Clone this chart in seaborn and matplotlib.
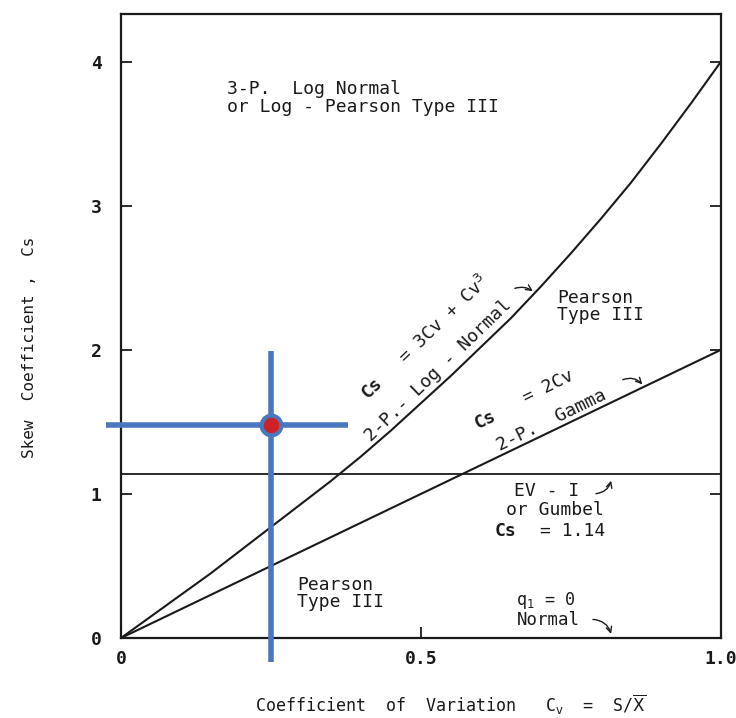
import numpy as np
import pandas as pd
import matplotlib
matplotlib.use("Agg")
import matplotlib.pyplot as plt
import seaborn as sns

# ---- data ----
cv_points = [0.0, 0.05, 0.1, 0.15, 0.2, 0.25, 0.3, 0.35, 0.4, 0.45, 0.5,
             0.55, 0.6, 0.65, 0.7, 0.75, 0.8, 0.85, 0.9, 0.95, 1.0]
cs_lognormal = [0.0, 0.15, 0.30, 0.45, 0.61, 0.77, 0.93, 1.09, 1.26, 1.44, 1.63,
                1.82, 2.02, 2.22, 2.44, 2.67, 2.91, 3.16, 3.43, 3.71, 4.0]
cv_gamma = [0.0, 1.0]
cs_gamma = [0.0, 2.0]
cs_gumbel = 1.14
point_cv = 0.25
point_cs = 1.48
cross_h = [-0.025, 0.378]   # horizontal blue bar extent (Cv)
cross_v = [-0.17, 1.99]     # vertical blue bar extent (Cs)
xticks = [0, 0.5, 1.0]
xticklabels = ["0", "0.5", "1.0"]
yticks = [0, 1, 2, 3, 4]
yticklabels = ["0", "1", "2", "3", "4"]

sns.set_style("ticks")
plt.rcParams['font.family'] = ['DejaVu Sans Mono', 'DejaVu Sans']

fig = plt.figure(figsize=(7.36, 7.18), dpi=100)
ax = fig.add_axes([121/736, 80/718, 600/736, 624/718])

df_ln = pd.DataFrame({"Cv": cv_points, "Cs": cs_lognormal})
df_g = pd.DataFrame({"Cv": cv_gamma, "Cs": cs_gamma})
df_gu = pd.DataFrame({"Cv": [0.0, 1.0], "Cs": [cs_gumbel, cs_gumbel]})

black = "#1a1a1a"
sns.lineplot(data=df_ln, x="Cv", y="Cs", ax=ax, color=black, lw=1.5)
sns.lineplot(data=df_g, x="Cv", y="Cs", ax=ax, color=black, lw=1.5)
sns.lineplot(data=df_gu, x="Cv", y="Cs", ax=ax, color=black, lw=1.3)

# blue crosshair with red point
blue = "#4a78bf"
ax.plot(cross_h, [point_cs, point_cs], color=blue, lw=4, clip_on=False, solid_capstyle="butt", zorder=5)
ax.plot([point_cv, point_cv], cross_v, color=blue, lw=4, clip_on=False, solid_capstyle="butt", zorder=5)
ax.scatter([point_cv], [point_cs], s=200, color="#d0202a", edgecolor=blue, linewidth=3, zorder=6)

ax.set_xlim(0, 1.0)
ax.set_ylim(0, 4.33)
ax.set_xticks(xticks)
ax.set_xticklabels(xticklabels)
ax.set_yticks(yticks)
ax.set_yticklabels(yticklabels)
ax.tick_params(axis="both", direction="in", length=8, width=1.3, labelsize=13, colors=black)
ax.tick_params(axis="y", right=True, pad=14)
ax.tick_params(axis="x", pad=9)
for lab in ax.get_xticklabels() + ax.get_yticklabels():
    lab.set_fontweight("bold")
for s in ax.spines.values():
    s.set_visible(True)
    s.set_linewidth(1.6)
    s.set_color(black)

ax.set_xlabel(r"Coefficient  of  Variation   C$_\mathrm{v}$  =  S/$\overline{\mathrm{X}}$",
              fontsize=12, color=black, va="center")
ax.set_ylabel("Skew  Coefficient ,  Cs", fontsize=11.5, color=black, va="center")
ax.xaxis.set_label_coords((451 - 121) / 600, -0.107)
ax.yaxis.set_label_coords((30 - 121) / 600, (638 - 347) / 624)

fs = 13
ax.text(0.177, 3.87, "3-P.  Log Normal\nor Log - Pearson Type III", fontsize=fs, va="top", ha="left",
        color=black, linespacing=0.95)
ax.text(0.727, 2.30, "Pearson\nType III", fontsize=fs, ha="left", va="center", color=black, linespacing=0.95)
ax.text(0.293, 0.31, "Pearson\nType III", fontsize=fs, ha="left", va="center", color=black, linespacing=0.95)

ax.text(0.418, 1.736, "Cs", fontsize=fs, fontweight="bold", ha="center", va="center", rotation=44, color=black)
ax.text(0.537, 2.208, r"= 3Cv + Cv$^3$", fontsize=fs, ha="center", va="center", rotation=44, color=black)
ax.text(0.528, 1.854, "2-P.- Log - Normal", fontsize=fs, ha="center", va="center", rotation=44, color=black)
ax.annotate("", xy=(0.69, 2.395), xytext=(0.652, 2.42),
            arrowprops=dict(arrowstyle="->", color=black, lw=1.0, connectionstyle="arc3,rad=-0.3"))

ax.text(0.607, 1.514, "Cs", fontsize=fs, fontweight="bold", ha="center", va="center", rotation=26, color=black)
ax.text(0.712, 1.743, "= 2Cv", fontsize=fs, ha="center", va="center", rotation=26, color=black)
ax.text(0.717, 1.514, "2-P.  Gamma", fontsize=fs, ha="center", va="center", rotation=26, color=black)
ax.annotate("", xy=(0.872, 1.745), xytext=(0.832, 1.785),
            arrowprops=dict(arrowstyle="->", color=black, lw=1.0, connectionstyle="arc3,rad=-0.4"))

ax.text(0.71, 1.02, "EV - I", fontsize=fs, ha="center", va="center", color=black)
ax.text(0.723, 0.889, "or Gumbel", fontsize=fs, ha="center", va="center", color=black)
ax.text(0.64, 0.743, "Cs", fontsize=fs, fontweight="bold", ha="center", va="center", color=black)
ax.text(0.753, 0.743, "= 1.14", fontsize=fs, ha="center", va="center", color=black)
ax.annotate("", xy=(0.818, 1.11), xytext=(0.787, 1.0),
            arrowprops=dict(arrowstyle="->", color=black, lw=1.0, connectionstyle="arc3,rad=0.4"))

ax.text(0.707, 0.262, r"q$_1$ = 0", fontsize=12, ha="center", va="center", color=black)
ax.text(0.712, 0.122, "Normal", fontsize=12.5, ha="center", va="center", color=black)
ax.annotate("", xy=(0.818, 0.01), xytext=(0.782, 0.13),
            arrowprops=dict(arrowstyle="->", color=black, lw=1.0, connectionstyle="arc3,rad=-0.4"))

fig.savefig("out.png", dpi=100)
